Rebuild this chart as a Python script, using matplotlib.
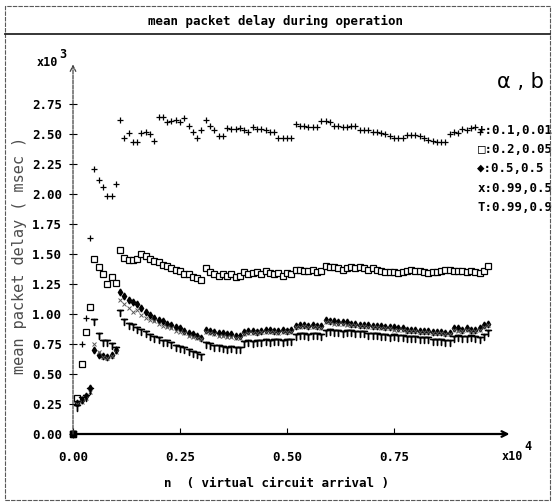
import numpy as np
import matplotlib
matplotlib.use("Agg")
import matplotlib.pyplot as plt
from matplotlib.patches import Rectangle
from matplotlib.lines import Line2D

# mean packet delay (x10^3 msec), one value every 100 arrivals starting at n = 0
delay_a01 = [0, 0.27, 0.75, 0.97, 1.63, 2.21, 2.12, 2.06, 1.98, 1.98, 2.08,
             2.62, 2.47, 2.51, 2.43, 2.43, 2.51, 2.52, 2.50, 2.44,
             2.64, 2.64, 2.60, 2.61, 2.62, 2.60, 2.63, 2.57, 2.52, 2.47,
             2.53, 2.62, 2.57, 2.53, 2.48, 2.48, 2.55, 2.54, 2.54, 2.55,
             2.53, 2.52, 2.56, 2.54, 2.54, 2.53, 2.52, 2.52, 2.47, 2.47,
             2.47, 2.47, 2.58, 2.57, 2.57, 2.56, 2.56, 2.56, 2.61, 2.61,
             2.60, 2.57, 2.57, 2.56, 2.56, 2.57, 2.57, 2.53, 2.53, 2.53,
             2.52, 2.52, 2.51, 2.50, 2.48, 2.47, 2.47, 2.47, 2.49, 2.49,
             2.49, 2.48, 2.47, 2.45, 2.44, 2.43, 2.43, 2.43, 2.50, 2.52,
             2.51, 2.54, 2.53, 2.55, 2.56, 2.52]

delay_a02 = [0, 0.30, 0.58, 0.85, 1.06, 1.46, 1.39, 1.33, 1.25, 1.31, 1.26,
             1.53, 1.47, 1.45, 1.45, 1.46, 1.50, 1.48, 1.46, 1.44,
             1.43, 1.41, 1.40, 1.38, 1.37, 1.36, 1.33, 1.33, 1.31, 1.30,
             1.28, 1.38, 1.35, 1.33, 1.32, 1.33, 1.32, 1.33, 1.31, 1.32,
             1.35, 1.33, 1.34, 1.35, 1.33, 1.36, 1.34, 1.33, 1.34, 1.32,
             1.34, 1.33, 1.37, 1.37, 1.36, 1.36, 1.37, 1.35, 1.36, 1.40,
             1.39, 1.39, 1.38, 1.37, 1.38, 1.39, 1.38, 1.39, 1.38, 1.37,
             1.38, 1.37, 1.36, 1.35, 1.35, 1.35, 1.34, 1.35, 1.36, 1.37,
             1.36, 1.36, 1.35, 1.34, 1.35, 1.35, 1.36, 1.37, 1.37, 1.36,
             1.36, 1.36, 1.35, 1.36, 1.35, 1.34, 1.36, 1.40]

delay_a05 = [0, 0.26, 0.28, 0.32, 0.38, 0.70, 0.66, 0.65, 0.64, 0.66, 0.70,
             1.18, 1.15, 1.12, 1.10, 1.08, 1.05, 1.02, 0.99, 0.97,
             0.95, 0.94, 0.92, 0.91, 0.89, 0.88, 0.86, 0.84, 0.83, 0.82,
             0.80, 0.87, 0.86, 0.85, 0.84, 0.84, 0.83, 0.83, 0.82, 0.82,
             0.85, 0.86, 0.86, 0.85, 0.86, 0.87, 0.87, 0.86, 0.86, 0.87,
             0.86, 0.87, 0.90, 0.91, 0.91, 0.90, 0.91, 0.90, 0.90, 0.95,
             0.94, 0.94, 0.93, 0.93, 0.93, 0.92, 0.92, 0.91, 0.91, 0.91,
             0.90, 0.90, 0.90, 0.89, 0.89, 0.89, 0.88, 0.88, 0.87, 0.87,
             0.87, 0.86, 0.86, 0.86, 0.85, 0.85, 0.85, 0.84, 0.84, 0.88,
             0.88, 0.87, 0.88, 0.87, 0.87, 0.88, 0.91, 0.92]

delay_a099_05 = [0, 0.25, 0.27, 0.30, 0.35, 0.75, 0.68, 0.64, 0.63, 0.65, 0.68,
                 1.12, 1.08, 1.05, 1.02, 1.03, 0.99, 0.97, 0.95, 0.94,
                 0.92, 0.90, 0.89, 0.88, 0.86, 0.85, 0.84, 0.82, 0.81, 0.80,
                 0.79, 0.85, 0.84, 0.83, 0.82, 0.82, 0.81, 0.81, 0.80, 0.80,
                 0.83, 0.84, 0.84, 0.84, 0.85, 0.85, 0.85, 0.85, 0.84, 0.85,
                 0.85, 0.85, 0.89, 0.89, 0.90, 0.89, 0.89, 0.89, 0.88, 0.93,
                 0.93, 0.92, 0.92, 0.92, 0.91, 0.91, 0.91, 0.90, 0.90, 0.89,
                 0.89, 0.89, 0.88, 0.88, 0.88, 0.87, 0.87, 0.87, 0.86, 0.86,
                 0.86, 0.85, 0.85, 0.85, 0.84, 0.84, 0.84, 0.83, 0.83, 0.87,
                 0.86, 0.86, 0.87, 0.86, 0.86, 0.87, 0.89, 0.91]

delay_a099_09 = [0, 0.22, 0.28, 0.30, 0.36, 0.93, 0.82, 0.76, 0.76, 0.73, 0.70,
                 1.01, 0.93, 0.90, 0.89, 0.87, 0.85, 0.83, 0.81, 0.79,
                 0.78, 0.76, 0.76, 0.74, 0.72, 0.71, 0.70, 0.68, 0.67, 0.66,
                 0.64, 0.74, 0.73, 0.72, 0.72, 0.71, 0.70, 0.71, 0.70, 0.70,
                 0.75, 0.76, 0.75, 0.76, 0.76, 0.77, 0.76, 0.77, 0.77, 0.76,
                 0.77, 0.77, 0.81, 0.82, 0.82, 0.81, 0.82, 0.82, 0.81, 0.84,
                 0.85, 0.84, 0.84, 0.83, 0.84, 0.84, 0.83, 0.83, 0.83, 0.82,
                 0.82, 0.82, 0.81, 0.81, 0.80, 0.81, 0.80, 0.80, 0.79, 0.79,
                 0.79, 0.78, 0.78, 0.78, 0.77, 0.77, 0.77, 0.76, 0.76, 0.79,
                 0.80, 0.79, 0.79, 0.80, 0.79, 0.78, 0.81, 0.84]

legend_labels = ["+:0.1,0.01", "\u25a1:0.2,0.05", "\u25c6:0.5,0.5", "x:0.99,0.5", "T:0.99,0.9"]
xtick_vals = [0.0, 0.25, 0.5, 0.75]
ytick_vals = [0.0, 0.25, 0.5, 0.75, 1.0, 1.25, 1.5, 1.75, 2.0, 2.25, 2.5, 2.75]

mono = ["DejaVu Sans Mono", "DejaVu Sans"]
W, H = 554, 504

fig = plt.figure(figsize=(W / 100, H / 100), dpi=100)
# axes placed in pixels: origin at (73, 434), 428 px per 1.0 in x, 120 px per 1.0 in y
ax = fig.add_axes([73 / W, (H - 434) / H, (514 - 73) / W, (434 - 58) / H])
ax.set_xlim(0, (514 - 73) / 428)
ax.set_ylim(0, (434 - 58) / 120)
for s in ax.spines.values():
    s.set_visible(False)

n = lambda v: np.arange(len(v)) * 0.01

ax.plot(n(delay_a01), delay_a01, ls="none", marker="+", ms=5, mew=0.9, color="k", clip_on=False)
ax.plot(n(delay_a02), delay_a02, ls="none", marker="s", ms=4, mew=0.9, mfc="white", mec="k", clip_on=False)
ax.plot(n(delay_a05), delay_a05, ls="none", marker="d", ms=3.5, color="k", clip_on=False)
ax.plot(n(delay_a099_05), delay_a099_05, ls="none", marker="x", ms=3.5, mew=0.7, color="0.35", clip_on=False)
ax.plot(n(delay_a099_09), delay_a099_09, ls="none", marker=r"$\top$", ms=4.5, color="k", clip_on=False)
ax.plot([0], [0], ls="none", marker="s", ms=5, color="k", clip_on=False)

# axis lines with arrow heads
ax.annotate("", xy=(1.02, 0), xytext=(0, 0), annotation_clip=False,
            arrowprops=dict(arrowstyle="->", lw=1.6, color="k", shrinkA=0, shrinkB=0))
ax.annotate("", xy=(0, 3.08), xytext=(0, 0), annotation_clip=False,
            arrowprops=dict(arrowstyle="->", lw=0.9, color="0.25", ls=(0, (3, 1)), shrinkA=0, shrinkB=0))

ax.set_xticks(xtick_vals)
ax.set_xticklabels(["%.2f" % v for v in xtick_vals])
ax.set_yticks(ytick_vals)
ax.set_yticklabels(["%.2f" % v for v in ytick_vals])
ax.tick_params(axis="x", direction="in", length=4, width=0.8, pad=12, labelsize=9)
ax.tick_params(axis="y", direction="inout", length=6, width=0.8, pad=5, labelsize=9)
for lab in ax.get_xticklabels() + ax.get_yticklabels():
    lab.set_family(mono)
    lab.set_fontweight("bold")

# legend written as text at the right
ax.text(0.99, 2.93, "\u03b1 , b", fontsize=15, family="DejaVu Sans", va="center", ha="left")
for i, lab in enumerate(legend_labels):
    ax.text(0.945, 2.53 - i * 0.16, lab, fontsize=9, family=mono, fontweight="bold",
            va="center", ha="left", clip_on=False)

# frame, title box and labels
fig.patches.append(Rectangle((5 / W, 4 / H), (550 - 5) / W, (500 - 6) / H, transform=fig.transFigure,
                             fill=False, ec="0.35", lw=0.8, ls=(0, (4, 1))))
fig.lines.append(Line2D([5 / W, 550 / W], [1 - 34 / H, 1 - 34 / H], transform=fig.transFigure,
                        color="0.15", lw=1.3))
fig.text(276 / W, 1 - 21 / H, "mean packet delay during operation", ha="center", va="center",
         fontsize=9, family=mono, fontweight="bold")
fig.text(20 / W, 1 - 255 / H, "mean packet delay ( msec )", rotation=90, ha="center", va="center",
         fontsize=11, family=mono, color="0.3")
fig.text(277 / W, 1 - 483 / H, "n  ( virtual circuit arrival )", ha="center", va="center",
         fontsize=9, family=mono, fontweight="bold")
fig.text(47 / W, 1 - 63 / H, "x10", ha="center", va="center", fontsize=8.5, family=mono, fontweight="bold")
fig.text(63 / W, 1 - 54 / H, "3", ha="center", va="center", fontsize=8.5, family=mono, fontweight="bold")
fig.text(512 / W, 1 - 457 / H, "x10", ha="center", va="center", fontsize=8.5, family=mono, fontweight="bold")
fig.text(528 / W, 1 - 447 / H, "4", ha="center", va="center", fontsize=8.5, family=mono, fontweight="bold")

fig.savefig("out.png", dpi=100)
